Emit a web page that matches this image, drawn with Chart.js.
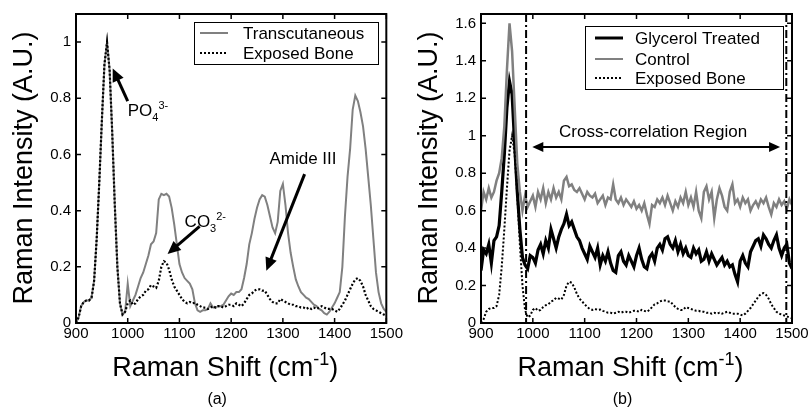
<!DOCTYPE html>
<html>
<head>
<meta charset="utf-8">
<script src="https://cdn.jsdelivr.net/npm/chart.js@4.4.1/dist/chart.umd.min.js"></script>
<style>
  html, body { margin: 0; padding: 0; background: #fff; }
  #wrap { position: relative; width: 811px; height: 407px; }
  canvas { position: absolute; top: 0; }
</style>
</head>
<body>
<div id="wrap">
  <canvas id="chartA" width="405" height="407" style="left:0"></canvas>
  <canvas id="chartB" width="406" height="407" style="left:405px"></canvas>
</div>
<script>
const FONT = "Arial, 'Liberation Sans', sans-serif";

// Raman shift sampling (cm-1)
const wavenumbers = [
  900, 905, 910, 915, 920, 925, 930, 935, 940, 945, 950, 955, 960, 965, 970, 975, 980, 985, 990, 995,
  1000, 1005, 1010, 1015, 1020, 1025, 1030, 1035, 1040, 1045, 1050, 1055, 1060, 1065, 1070, 1075, 1080, 1085, 1090, 1095,
  1100, 1105, 1110, 1115, 1120, 1125, 1130, 1135, 1140, 1145, 1150, 1155, 1160, 1165, 1170, 1175, 1180, 1185, 1190, 1195,
  1200, 1205, 1210, 1215, 1220, 1225, 1230, 1235, 1240, 1245, 1250, 1255, 1260, 1265, 1270, 1275, 1280, 1285, 1290, 1295,
  1300, 1305, 1310, 1315, 1320, 1325, 1330, 1335, 1340, 1345, 1350, 1355, 1360, 1365, 1370, 1375, 1380, 1385, 1390, 1395,
  1400, 1405, 1410, 1415, 1420, 1425, 1430, 1435, 1440, 1445, 1450, 1455, 1460, 1465, 1470, 1475, 1480, 1485, 1490, 1495, 1500
];

const exposedBone = [
  0.00, 0.02, 0.06, 0.075, 0.08, 0.08, 0.09, 0.15, 0.30, 0.50, 0.72, 0.92, 1.00, 0.90, 0.68, 0.42, 0.20, 0.07, 0.03, 0.04,
  0.07, 0.08, 0.065, 0.07, 0.085, 0.095, 0.10, 0.115, 0.12, 0.135, 0.13, 0.125, 0.15, 0.20, 0.22, 0.215, 0.19, 0.155, 0.13, 0.115,
  0.10, 0.085, 0.075, 0.07, 0.075, 0.07, 0.072, 0.065, 0.06, 0.055, 0.055, 0.05, 0.055, 0.06, 0.055, 0.06, 0.06, 0.055, 0.06, 0.065,
  0.065, 0.06, 0.07, 0.065, 0.06, 0.07, 0.085, 0.10, 0.105, 0.115, 0.12, 0.12, 0.115, 0.115, 0.10, 0.085, 0.075, 0.07, 0.07, 0.085,
  0.08, 0.075, 0.07, 0.065, 0.065, 0.06, 0.06, 0.055, 0.055, 0.05, 0.055, 0.05, 0.055, 0.05, 0.055, 0.06, 0.055, 0.05, 0.05, 0.05,
  0.045, 0.04, 0.05, 0.065, 0.08, 0.10, 0.12, 0.14, 0.155, 0.16, 0.15, 0.13, 0.10, 0.08, 0.06, 0.05, 0.045, 0.04, 0.035, 0.03, 0.025
];

const transcutaneous = [
  0.00, 0.02, 0.06, 0.075, 0.08, 0.08, 0.09, 0.15, 0.30, 0.50, 0.72, 0.92, 1.00, 0.90, 0.68, 0.42, 0.20, 0.07, 0.03, 0.04,
  0.14, 0.06, 0.08, 0.10, 0.13, 0.16, 0.18, 0.21, 0.24, 0.28, 0.29, 0.32, 0.44, 0.46, 0.455, 0.46, 0.45, 0.41, 0.35, 0.28,
  0.21, 0.18, 0.16, 0.15, 0.14, 0.12, 0.07, 0.045, 0.04, 0.045, 0.045, 0.05, 0.07, 0.055, 0.055, 0.06, 0.06, 0.065, 0.08, 0.095,
  0.105, 0.10, 0.11, 0.11, 0.12, 0.16, 0.21, 0.28, 0.32, 0.37, 0.41, 0.44, 0.455, 0.45, 0.42, 0.38, 0.34, 0.32, 0.36, 0.47,
  0.495, 0.42, 0.32, 0.25, 0.20, 0.155, 0.13, 0.11, 0.10, 0.09, 0.085, 0.075, 0.065, 0.06, 0.05, 0.045, 0.035, 0.03, 0.04, 0.055,
  0.07, 0.09, 0.11, 0.20, 0.38, 0.52, 0.62, 0.76, 0.81, 0.79, 0.75, 0.70, 0.62, 0.52, 0.42, 0.30, 0.18, 0.11, 0.07, 0.05, 0.04
];

const control = [
  0.60, 0.70, 0.66, 0.72, 0.67, 0.70, 0.76, 0.80, 0.88, 1.05, 1.35, 1.60, 1.45, 1.15, 0.85, 0.70, 0.60, 0.68, 0.62, 0.65,
  0.68, 0.62, 0.70, 0.66, 0.72, 0.64, 0.70, 0.66, 0.72, 0.67, 0.70, 0.66, 0.76, 0.78, 0.73, 0.74, 0.71, 0.70, 0.72, 0.69,
  0.66, 0.70, 0.68, 0.67, 0.69, 0.64, 0.66, 0.68, 0.63, 0.67, 0.66, 0.74, 0.66, 0.64, 0.67, 0.63, 0.66, 0.64, 0.62, 0.65,
  0.61, 0.63, 0.60, 0.64, 0.58, 0.53, 0.63, 0.62, 0.66, 0.64, 0.67, 0.63, 0.68, 0.64, 0.60, 0.65, 0.62, 0.67, 0.64, 0.70,
  0.63, 0.67, 0.62, 0.70, 0.60, 0.56, 0.70, 0.73, 0.66, 0.70, 0.56, 0.66, 0.72, 0.68, 0.62, 0.60, 0.70, 0.74, 0.64, 0.66,
  0.62, 0.67, 0.64, 0.66, 0.60, 0.63, 0.65, 0.62, 0.66, 0.64, 0.67, 0.62, 0.58, 0.64, 0.62, 0.66, 0.63, 0.65, 0.61, 0.66, 0.63
];

const glycerolTreated = [
  0.28, 0.39, 0.37, 0.42, 0.32, 0.44, 0.46, 0.52, 0.70, 0.90, 1.15, 1.29, 1.22, 0.95, 0.70, 0.50, 0.35, 0.31, 0.29, 0.36,
  0.35, 0.32, 0.39, 0.42, 0.37, 0.44, 0.40, 0.50, 0.45, 0.40, 0.46, 0.50, 0.53, 0.58, 0.52, 0.54, 0.50, 0.46, 0.44, 0.40,
  0.37, 0.34, 0.41, 0.38, 0.35, 0.40, 0.31, 0.36, 0.33, 0.38, 0.32, 0.28, 0.27, 0.36, 0.38, 0.33, 0.31, 0.36, 0.33, 0.30,
  0.36, 0.40, 0.34, 0.30, 0.29, 0.35, 0.37, 0.33, 0.40, 0.42, 0.39, 0.45, 0.46, 0.42, 0.40, 0.44, 0.38, 0.42, 0.37, 0.40,
  0.36, 0.35, 0.40, 0.37, 0.39, 0.33, 0.34, 0.38, 0.33, 0.37, 0.34, 0.31, 0.33, 0.35, 0.31, 0.33, 0.30, 0.31, 0.26, 0.22,
  0.33, 0.36, 0.32, 0.30, 0.38, 0.41, 0.44, 0.45, 0.41, 0.47, 0.45, 0.42, 0.40, 0.44, 0.47, 0.40, 0.36, 0.40, 0.42, 0.32, 0.29
];

const xTicks = [900, 1000, 1100, 1200, 1300, 1400, 1500];
const yTicksA = [0, 0.2, 0.4, 0.6, 0.8, 1];
const yTicksB = [0, 0.2, 0.4, 0.6, 0.8, 1, 1.2, 1.4, 1.6];

// cross-correlation region bounds (cm-1)
const regionBounds = [987, 1489];

function toPoints(values) {
  return wavenumbers.map((x, i) => ({ x: x, y: values[i] }));
}

// text with optional sub/superscripts: parts = [[text, "n"|"sub"|"sup"], ...]
function richWidth(ctx, parts, size) {
  let w = 0;
  parts.forEach(([t, mode]) => {
    const s = mode === "n" ? size : Math.round(size * 0.65);
    ctx.font = s + "px " + FONT;
    w += ctx.measureText(t).width;
  });
  return w;
}

function drawRich(ctx, parts, x, y, size, align) {
  let cx = align === "center" ? x - richWidth(ctx, parts, size) / 2 : x;
  ctx.textAlign = "left";
  ctx.textBaseline = "alphabetic";
  parts.forEach(([t, mode]) => {
    const s = mode === "n" ? size : Math.round(size * 0.65);
    ctx.font = s + "px " + FONT;
    const dy = mode === "sub" ? size * 0.28 : mode === "sup" ? -size * 0.42 : 0;
    ctx.fillText(t, cx, y + dy);
    cx += ctx.measureText(t).width;
  });
}

function arrowHead(ctx, x, y, ang, len, half) {
  ctx.beginPath();
  ctx.moveTo(x, y);
  ctx.lineTo(x - len * Math.cos(ang) + half * Math.sin(ang), y - len * Math.sin(ang) - half * Math.cos(ang));
  ctx.lineTo(x - len * Math.cos(ang) - half * Math.sin(ang), y - len * Math.sin(ang) + half * Math.cos(ang));
  ctx.closePath();
  ctx.fill();
}

const overlayPlugin = {
  id: "overlay",
  afterDraw(chart, args, opts) {
    const { ctx, chartArea: area, scales } = chart;
    const xs = scales.x;
    const ys = scales.y;
    ctx.save();
    ctx.fillStyle = "#000";
    ctx.strokeStyle = "#000";

    // dash-dot region lines
    (opts.vlines || []).forEach((v) => {
      const px = xs.getPixelForValue(v);
      ctx.setLineDash([8, 3, 2, 3]);
      ctx.lineWidth = 2;
      ctx.beginPath();
      ctx.moveTo(px, area.top);
      ctx.lineTo(px, area.bottom);
      ctx.stroke();
    });
    ctx.setLineDash([]);

    // box and inward ticks
    ctx.lineWidth = 2;
    ctx.strokeRect(area.left, area.top, area.right - area.left, area.bottom - area.top);
    ctx.lineWidth = 1.5;
    ctx.beginPath();
    xTicks.forEach((v) => {
      const px = xs.getPixelForValue(v);
      ctx.moveTo(px, area.bottom);
      ctx.lineTo(px, area.bottom - 5);
      ctx.moveTo(px, area.top);
      ctx.lineTo(px, area.top + 5);
    });
    opts.yTicks.forEach((v) => {
      const py = ys.getPixelForValue(v);
      ctx.moveTo(area.left, py);
      ctx.lineTo(area.left + 5, py);
      ctx.moveTo(area.right, py);
      ctx.lineTo(area.right - 5, py);
    });
    ctx.stroke();

    // arrows
    (opts.arrows || []).forEach((a) => {
      const x1 = xs.getPixelForValue(a.from[0]);
      const y1 = ys.getPixelForValue(a.from[1]);
      const x2 = xs.getPixelForValue(a.to[0]);
      const y2 = ys.getPixelForValue(a.to[1]);
      const ang = Math.atan2(y2 - y1, x2 - x1);
      ctx.lineWidth = a.width;
      ctx.beginPath();
      ctx.moveTo(x1 + (a.both ? a.head * 0.8 * Math.cos(ang) : 0), y1 + (a.both ? a.head * 0.8 * Math.sin(ang) : 0));
      ctx.lineTo(x2 - a.head * 0.8 * Math.cos(ang), y2 - a.head * 0.8 * Math.sin(ang));
      ctx.stroke();
      arrowHead(ctx, x2, y2, ang, a.head, a.half);
      if (a.both) arrowHead(ctx, x1, y1, ang + Math.PI, a.head, a.half);
    });

    // annotations
    (opts.notes || []).forEach((n) => {
      drawRich(ctx, n.parts, xs.getPixelForValue(n.at[0]), ys.getPixelForValue(n.at[1]), n.size, n.align);
    });

    // legend
    const lg = opts.legend;
    ctx.fillStyle = "#fff";
    ctx.fillRect(lg.box[0], lg.box[1], lg.box[2] - lg.box[0], lg.box[3] - lg.box[1]);
    ctx.lineWidth = 1;
    ctx.strokeStyle = "#000";
    ctx.strokeRect(lg.box[0] + 0.5, lg.box[1] + 0.5, lg.box[2] - lg.box[0], lg.box[3] - lg.box[1]);
    lg.items.forEach((it, i) => {
      const y = lg.rows[i];
      ctx.strokeStyle = it.color;
      ctx.lineWidth = it.width;
      ctx.setLineDash(it.dash || []);
      ctx.beginPath();
      ctx.moveTo(lg.sample[0], y);
      ctx.lineTo(lg.sample[1], y);
      ctx.stroke();
      ctx.setLineDash([]);
      ctx.fillStyle = "#000";
      ctx.font = "17px " + FONT;
      ctx.textAlign = "left";
      ctx.textBaseline = "middle";
      ctx.fillText(it.label, lg.textX, y + 1);
    });

    // axis titles and panel label
    ctx.fillStyle = "#000";
    const cx = (area.left + area.right) / 2;
    drawRich(ctx, [["Raman Shift (cm", "n"], ["-1", "sup"], [")", "n"]], cx - 6, 376, 27, "center");
    ctx.save();
    ctx.translate(25, 168);
    ctx.rotate(-Math.PI / 2);
    ctx.font = "27px " + FONT;
    ctx.textAlign = "center";
    ctx.textBaseline = "middle";
    ctx.fillText("Raman Intensity (A.U.)", 0, 0);
    ctx.restore();
    ctx.font = "16px " + FONT;
    ctx.textAlign = "center";
    ctx.textBaseline = "alphabetic";
    ctx.fillText(opts.panel, cx - 14, 404);
    ctx.restore();
  },
};

function makeChart(id, datasets, yMax, yTicks, rightPad, overlay) {
  return new Chart(document.getElementById(id), {
    type: "line",
    data: { datasets: datasets },
    options: {
      responsive: false,
      animation: false,
      layout: { padding: { left: 0, right: rightPad, top: 10, bottom: 0 } },
      elements: { point: { radius: 0 }, line: { tension: 0 } },
      plugins: {
        legend: { display: false },
        tooltip: { enabled: false },
        overlay: Object.assign({ yTicks: yTicks }, overlay),
      },
      scales: {
        x: {
          type: "linear",
          min: 900,
          max: 1500,
          grid: { display: false, drawTicks: false },
          border: { display: false },
          afterBuildTicks: (s) => { s.ticks = xTicks.map((v) => ({ value: v })); },
          afterFit: (s) => { s.height = 84; },
          ticks: {
            padding: 2,
            color: "#000",
            autoSkip: false,
            maxRotation: 0,
            font: { family: FONT, size: 15 },
            callback: (v) => String(v),
          },
        },
        y: {
          type: "linear",
          min: 0,
          max: yMax,
          grid: { display: false, drawTicks: false },
          border: { display: false },
          afterBuildTicks: (s) => { s.ticks = yTicks.map((v) => ({ value: v })); },
          afterFit: (s) => { s.width = 76; },
          ticks: {
            padding: 5,
            color: "#000",
            autoSkip: false,
            font: { family: FONT, size: 15 },
            callback: (v) => String(v),
          },
        },
      },
    },
    plugins: [overlayPlugin],
  });
}

const GREY = "#808080";

// lower "order" is drawn on top
makeChart(
  "chartA",
  [
    { label: "Transcutaneous", data: toPoints(transcutaneous), borderColor: GREY, borderWidth: 2, order: 2 },
    { label: "Exposed Bone", data: toPoints(exposedBone), borderColor: "#000", borderWidth: 2.2, borderDash: [2, 2], order: 1 },
  ],
  1.1,
  yTicksA,
  18,
  {
    panel: "(a)",
    legend: {
      box: [194, 22, 378, 64],
      rows: [33, 53],
      sample: [200, 228],
      textX: 243,
      items: [
        { label: "Transcutaneous", color: GREY, width: 2 },
        { label: "Exposed Bone", color: "#000", width: 2, dash: [2, 2] },
      ],
    },
    arrows: [
      { from: [1000, 0.79], to: [971, 0.906], width: 3, head: 13, half: 6 },
      { from: [1139, 0.344], to: [1077, 0.246], width: 3, head: 13, half: 6 },
      { from: [1342, 0.53], to: [1268, 0.186], width: 3, head: 13, half: 6 },
    ],
    notes: [
      { parts: [["PO", "n"], ["4", "sub"], ["3-", "sup"]], at: [1000, 0.737], size: 17, align: "left" },
      { parts: [["CO", "n"], ["3", "sub"], ["2-", "sup"]], at: [1110, 0.34], size: 17, align: "left" },
      { parts: [["Amide III", "n"]], at: [1274, 0.565], size: 17, align: "left" },
    ],
  }
);

makeChart(
  "chartB",
  [
    { label: "Glycerol Treated", data: toPoints(glycerolTreated), borderColor: "#000", borderWidth: 3.2, order: 3 },
    { label: "Control", data: toPoints(control), borderColor: GREY, borderWidth: 2.5, order: 2 },
    { label: "Exposed Bone", data: toPoints(exposedBone), borderColor: "#000", borderWidth: 2, borderDash: [2, 2], order: 1 },
  ],
  1.65,
  yTicksB,
  19,
  {
    panel: "(b)",
    vlines: regionBounds,
    legend: {
      box: [180, 26, 378, 89],
      rows: [38, 59, 78],
      sample: [190, 218],
      textX: 230,
      items: [
        { label: "Glycerol Treated", color: "#000", width: 3 },
        { label: "Control", color: GREY, width: 2 },
        { label: "Exposed Bone", color: "#000", width: 2, dash: [2, 2] },
      ],
    },
    arrows: [
      { from: [999, 0.94], to: [1477, 0.94], width: 2, head: 11, half: 5, both: true },
    ],
    notes: [
      { parts: [["Cross-correlation Region", "n"]], at: [1232, 0.995], size: 17, align: "center" },
    ],
  }
);
</script>
</body>
</html>
